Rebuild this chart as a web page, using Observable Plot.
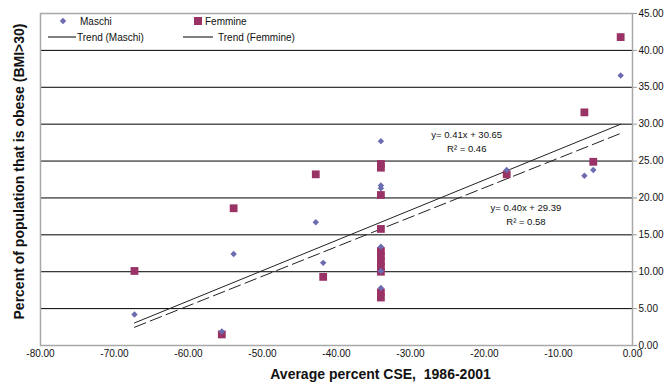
<!DOCTYPE html>
<html>
<head>
<meta charset="utf-8">
<script src="https://cdn.jsdelivr.net/npm/d3@7"></script>
<script src="https://cdn.jsdelivr.net/npm/@observablehq/plot@0.6"></script>
<style>
  html, body { margin: 0; padding: 0; background: #fff; }
  #chart svg { display: block; }
</style>
</head>
<body>
<div id="chart"></div>
<script>
// ---- data ----
const xTicks = [-80, -70, -60, -50, -40, -30, -20, -10, 0];
const yTicks = [0, 5, 10, 15, 20, 25, 30, 35, 40, 45];
const gridLines = [5, 10, 15, 20, 25, 30, 35, 40];

const maschiX = [-67.3, -55.5, -53.9, -42.8, -41.8, -34, -34, -34, -34, -34, -34, -17, -6.5, -5.3, -1.6];
const maschiY = [4.2, 1.9, 12.4, 16.7, 11.2, 27.7, 21.7, 21.3, 13.4, 10.1, 7.8, 23.8, 23.0, 23.8, 36.6];

const femmineX = [-67.3, -55.5, -53.9, -42.8, -41.8, -34, -34, -34, -34, -34, -34, -34, -34, -34, -34, -34, -17, -6.5, -5.3, -1.6];
const femmineY = [10.1, 1.5, 18.6, 23.2, 9.3, 24.6, 24.1, 20.4, 15.8, 12.8, 12.1, 11.4, 10.7, 10.0, 7.2, 6.5, 23.2, 31.6, 24.9, 41.8];

// trend lines as displayed (slope, intercept)
const trendMaschi = {slope: 0.41, intercept: 30.65};
const trendFemmine = {slope: 0.40, intercept: 29.39};

const annotations = [
  {x: -22.4, y: 28.6, text: "y= 0.41x + 30.65"},
  {x: -22.4, y: 26.6, text: "R\u00b2 = 0.46"},
  {x: -14.4, y: 18.6, text: "y= 0.40x + 29.39"},
  {x: -14.4, y: 16.8, text: "R\u00b2 = 0.58"}
];

const seriesNames = ["Maschi", "Femmine", "Trend (Maschi)", "Trend (Femmine)"];
const colorM = "#6b6bb0";
const colorF = "#993366";
const font = "'Liberation Sans', Arial, sans-serif";
const fmt = d => d.toFixed(2);

// ---- build tables ----
const maschi = maschiX.map((x, i) => ({x, y: maschiY[i]}));
const femmine = femmineX.map((x, i) => ({x, y: femmineY[i]}));
const allX = maschiX.concat(femmineX);
const xMin = d3.min(allX), xMax = d3.max(allX);
const lineFrom = (t) => [xMin, xMax].map(x => ({x, y: t.slope * x + t.intercept}));

const legend = (index, scales, values, dims) => {
  const ml = dims.marginLeft, mt = dims.marginTop;
  const g = d3.create("svg:g")
    .attr("font-family", font)
    .attr("font-size", 10)
    .attr("text-anchor", "start")
    .attr("fill", "#111");
  const r1 = mt + 8, r2 = mt + 24;
  g.append("path")
    .attr("d", d3.symbol(d3.symbolDiamond2, Math.PI * 2.9 * 2.9)())
    .attr("transform", `translate(${ml + 23},${r1})`)
    .attr("fill", colorM);
  g.append("text").attr("x", ml + 40).attr("y", r1).attr("dy", "0.35em").text(seriesNames[0]);
  g.append("rect").attr("x", ml + 154).attr("y", r1 - 4).attr("width", 8).attr("height", 8).attr("fill", colorF);
  g.append("text").attr("x", ml + 165).attr("y", r1).attr("dy", "0.35em").text(seriesNames[1]);
  g.append("line").attr("x1", ml + 8).attr("x2", ml + 36).attr("y1", r2).attr("y2", r2).attr("stroke", "#000");
  g.append("text").attr("x", ml + 37).attr("y", r2).attr("dy", "0.35em").text(seriesNames[2]);
  g.append("line").attr("x1", ml + 143).attr("x2", ml + 173).attr("y1", r2).attr("y2", r2).attr("stroke", "#000");
  g.append("text").attr("x", ml + 178).attr("y", r2).attr("dy", "0.35em").text(seriesNames[3]);
  return g.node();
};

const chart = Plot.plot({
  width: 664,
  height: 387,
  marginLeft: 40,
  marginRight: 32,
  marginTop: 13,
  marginBottom: 42,
  style: {fontFamily: font, background: "#fff", color: "#111"},
  x: {domain: [-80, 0]},
  y: {domain: [0, 45]},
  marks: [
    Plot.ruleY(gridLines, {stroke: "#000", strokeWidth: 1}),
    Plot.frame({stroke: "#a8a8a8", strokeWidth: 1.5}),
    Plot.axisY({anchor: "right", ticks: yTicks, tickFormat: fmt, tickSize: 4, tickPadding: 2, fontSize: 10, stroke: "#999", fill: "#111", label: null}),
    Plot.axisX({ticks: xTicks, tickFormat: fmt, tickSize: 0, tickPadding: 4, fontSize: 10, fill: "#111", label: null}),
    Plot.line(lineFrom(trendMaschi), {x: "x", y: "y", stroke: "#222", strokeWidth: 1}),
    Plot.line(lineFrom(trendFemmine), {x: "x", y: "y", stroke: "#222", strokeWidth: 1, strokeDasharray: "12,5"}),
    Plot.dot(femmine, {x: "x", y: "y", symbol: "square", r: 4.4, fill: colorF}),
    Plot.dot(maschi, {x: "x", y: "y", symbol: "diamond2", r: 2.9, fill: colorM}),
    Plot.text(annotations, {x: "x", y: "y", text: "text", fontSize: 9.5, fill: "#111"}),
    Plot.text(["Percent of population that is obese (BMI>30)"], {frameAnchor: "left", textAnchor: "middle", dx: -21, dy: -8, rotate: -90, fontSize: 14, fontWeight: "bold", fill: "#111"}),
    Plot.text(["Average percent CSE,  1986-2001"], {frameAnchor: "bottom", textAnchor: "middle", dx: 44, dy: 33, fontSize: 14, fontWeight: "bold", fill: "#111"}),
    legend
  ]
});
document.getElementById("chart").appendChild(chart);
</script>
</body>
</html>
